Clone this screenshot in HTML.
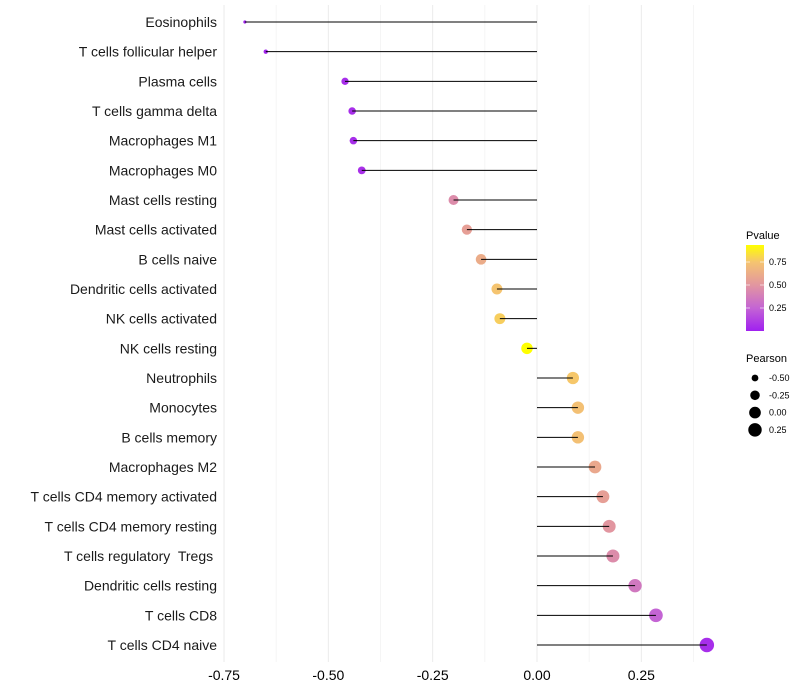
<!DOCTYPE html>
<html><head><meta charset="utf-8"><style>
body{margin:0;background:#fff;font-family:"Liberation Sans",sans-serif;}
svg{display:block}
text{white-space:pre}
</style></head><body>
<svg id="chart" width="800" height="700"></svg>
<script>
const categories=["Eosinophils","T cells follicular helper","Plasma cells","T cells gamma delta","Macrophages M1","Macrophages M0","Mast cells resting","Mast cells activated","B cells naive","Dendritic cells activated","NK cells activated","NK cells resting","Neutrophils","Monocytes","B cells memory","Macrophages M2","T cells CD4 memory activated","T cells CD4 memory resting","T cells regulatory  Tregs ","Dendritic cells resting","T cells CD8","T cells CD4 naive"];
const pearson=[-0.70,-0.65,-0.46,-0.443,-0.44,-0.42,-0.20,-0.168,-0.134,-0.096,-0.089,-0.024,0.086,0.098,0.098,0.139,0.158,0.173,0.182,0.235,0.285,0.407];
const pvalue=[0.01,0.02,0.05,0.05,0.05,0.06,0.45,0.55,0.62,0.75,0.78,0.935,0.76,0.73,0.73,0.6,0.55,0.5,0.45,0.35,0.25,0.05];
const xTicks=[-0.75,-0.5,-0.25,0,0.25];
const xTickLabels=["-0.75","-0.50","-0.25","0.00","0.25"];
const pLegend=[0.25,0.5,0.75];
const sizeLegend=[-0.5,-0.25,0,0.25];
const sizeLegendLabels=["-0.50","-0.25","0.00","0.25"];

const NS="http://www.w3.org/2000/svg";
const svg=document.getElementById('chart');
function el(t,a,p){const e=document.createElementNS(NS,t);for(const k in a)e.setAttribute(k,a[k]);(p||svg).appendChild(e);return e;}
const x=v=>537+v*417.3;
const y=i=>22+i*(623/21);
const r=v=>Math.sqrt(Math.max(0.5,2.5+45*(v+0.7)));
const stops=[[0,[160,32,240]],[0.25,[196,100,212]],[0.5,[226,150,160]],[0.75,[245,196,112]],[0.935,[255,255,0]]];
function col(p){p=Math.max(0,Math.min(0.935,p));for(let i=1;i<stops.length;i++){if(p<=stops[i][0]){const a=stops[i-1],b=stops[i],t=(p-a[0])/(b[0]-a[0]);return 'rgb('+a[1].map((c,j)=>Math.round(c+(b[1][j]-c)*t)).join(',')+')';}}return 'rgb(255,255,0)';}

const grid=el('g',{});


for(let v=-0.875;v<=0.45;v+=0.125){const gx=x(v);if(gx<205||gx>725)continue;const major=Math.abs(Math.round(v/0.25)*0.25-v)<1e-6;el('line',{x1:gx,x2:gx,y1:5,y2:662,stroke:major?'#ebebeb':'#f3f3f3','stroke-width':major?1:0.8},grid);}
xTicks.forEach((v,i)=>{const t=el('text',{x:x(v),y:680,'text-anchor':'middle','font-size':14,fill:'#000'});t.textContent=xTickLabels[i];

});
categories.forEach((c,i)=>{
 const t=el('text',{x:217,y:y(i)+5,'text-anchor':'end','font-size':14,fill:'#1a1a1a'});t.textContent=c;
 
 
 const pt=el('circle',{cx:x(pearson[i]),cy:y(i),r:r(pearson[i]),fill:col(pvalue[i])});
 
 
 const ln=el('line',{x1:x(0),x2:x(pearson[i]),y1:y(i),y2:y(i),stroke:'#000','stroke-width':1});
 
 
});
const lg=el('g',{});


const lt=el('text',{x:746,y:239,'font-size':11,fill:'#000'},lg);lt.textContent='Pvalue';
const defs=el('defs',{});const gr=el('linearGradient',{id:'pg',x1:0,y1:1,x2:0,y2:0},defs);
stops.forEach(s=>el('stop',{offset:s[0]/0.935,'stop-color':col(s[0])},gr));
el('rect',{x:746,y:245,width:18,height:86,fill:'url(#pg)'},lg);
pLegend.forEach(p=>{const yy=331-p*92;el('line',{x1:746,x2:750,y1:yy,y2:yy,stroke:'#fff','stroke-opacity':0.6},lg);el('line',{x1:760,x2:764,y1:yy,y2:yy,stroke:'#fff','stroke-opacity':0.6},lg);const t=el('text',{x:769,y:yy+3,'font-size':9,fill:'#000'},lg);t.textContent=p.toFixed(2);});
const sg=el('g',{});


const st=el('text',{x:746,y:362,'font-size':11,fill:'#000'},sg);st.textContent='Pearson';
sizeLegend.forEach((v,i)=>{const yy=378+i*17.3;el('circle',{cx:755,cy:yy,r:r(v),fill:'#000'},sg);const t=el('text',{x:769,y:yy+3,'font-size':9,fill:'#000'},sg);t.textContent=sizeLegendLabels[i];});
</script>
</body></html>
